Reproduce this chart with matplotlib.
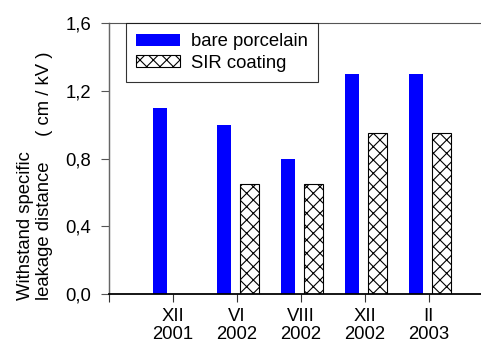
import numpy as np
import matplotlib
matplotlib.use("Agg")
import matplotlib.pyplot as plt

# data
categories = ["XII\n2001", "VI\n2002", "VIII\n2002", "XII\n2002", "II\n2003"]
bare_porcelain = [1.10, 1.00, 0.80, 1.30, 1.30]
sir_coating = [np.nan, 0.65, 0.65, 0.95, 0.95]
yticks = [0.0, 0.4, 0.8, 1.2, 1.6]

plt.rcParams["font.family"] = ["Liberation Sans", "DejaVu Sans"]
plt.rcParams["font.size"] = 16.6
plt.rcParams["hatch.linewidth"] = 1.0

DPI = 80
fig = plt.figure(figsize=(481 / DPI, 342 / DPI), dpi=DPI)
ax = fig.add_axes([108.5 / 481, 48 / 342, (481 - 108.5) / 481, 271 / 342])

x = np.arange(1, len(categories) + 1)
ax.bar(x - 0.195, bare_porcelain, width=0.225, color="#0000ff",
       linewidth=0, label="bare porcelain")
ax.bar(x + 0.203, sir_coating, width=0.30, facecolor="white",
       edgecolor="black", linewidth=1.0, hatch="xx", label="SIR coating")

ax.set_xlim(0, 5.82)
ax.set_ylim(0, 1.6)
ax.set_xticks([0] + list(x))
ax.set_xticklabels([""] + categories, linespacing=1.1)
ax.set_yticks(yticks)
ax.set_yticklabels([f"{v:.1f}".replace(".", ",") for v in yticks])

ax.tick_params(axis="y", direction="out", length=7.2, width=1.0,
               color="#555555", pad=8.5)
ax.tick_params(axis="x", direction="out", length=7.2, width=1.0,
               color="#333333", pad=5.5)

ax.spines["right"].set_visible(False)
ax.spines["left"].set_color("#666666")
ax.spines["left"].set_linewidth(1.3)
ax.spines["top"].set_color("#555555")
ax.spines["top"].set_linewidth(1.0)
ax.spines["bottom"].set_color("black")
ax.spines["bottom"].set_linewidth(1.6)

leg = ax.legend(loc="upper left", bbox_to_anchor=(0.046, 1.0),
                borderaxespad=0, fancybox=False, frameon=True,
                handlelength=2.4, handleheight=0.65, handletextpad=0.6,
                labelspacing=0.25, borderpad=0.55)
leg.get_frame().set_edgecolor("black")
leg.get_frame().set_linewidth(1.0)

fig.text(35 / 481, 42 / 342,
         "Withstand specific\nleakage distance     ( cm / kV )",
         rotation=90, ha="center", va="bottom", multialignment="left",
         linespacing=1.15)

fig.savefig("out.png", dpi=DPI)
